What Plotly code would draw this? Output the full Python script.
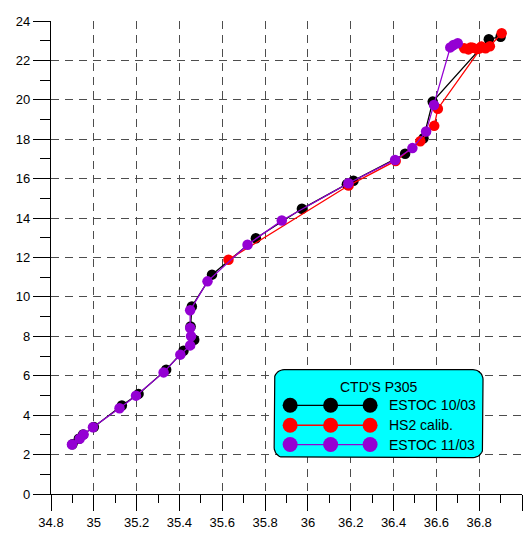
import math
import plotly.graph_objects as go

# ---- data (salinity S, temperature T) ----
black_S = [36.900, 36.845, 36.583, 36.540, 36.454, 36.213, 36.182, 35.972, 35.757, 35.552,
           35.458, 35.452, 35.469, 35.419, 35.338, 35.209, 35.131, 35.000, 34.950, 34.930, 34.900]
black_T = [23.20, 23.08, 19.91, 18.05, 17.26, 15.89, 15.72, 14.47, 12.98, 11.13,
           9.52, 8.50, 7.83, 7.27, 6.31, 5.08, 4.49, 3.40, 3.02, 2.80, 2.52]

red_S = [36.905, 36.850, 36.830, 36.810, 36.790, 36.770, 36.750, 36.730, 36.760, 36.800,
         36.812, 36.607, 36.590, 36.525, 36.410, 36.190, 35.629]
red_T = [23.38, 22.72, 22.62, 22.70, 22.58, 22.64, 22.56, 22.62, 22.66, 22.60,
         22.68, 19.55, 18.68, 17.90, 16.90, 15.65, 11.89]

purple_S = [36.700, 36.680, 36.665, 36.589, 36.552, 36.488, 36.407, 36.189, 35.878, 35.718,
            35.531, 35.450, 35.450, 35.454, 35.450, 35.404, 35.326, 35.197, 35.120, 34.996,
            34.952, 34.934, 34.898]
purple_T = [22.87, 22.78, 22.66, 19.74, 18.39, 17.55, 16.95, 15.77, 13.88, 12.65,
            10.79, 9.32, 8.42, 8.00, 7.54, 7.07, 6.17, 4.99, 4.35, 3.39,
            3.02, 2.80, 2.51]

series_names = ["ESTOC 10/03", "HS2 calib.", "ESTOC 11/03"]
series_colors = ["#000000", "#ff0000", "#9400d3"]
legend_title = "CTD'S P305"

x_tickvals = [34.8, 35.0, 35.2, 35.4, 35.6, 35.8, 36.0, 36.2, 36.4, 36.6, 36.8, 37.0]
x_ticktext = ["34.8", "35", "35.2", "35.4", "35.6", "35.8", "36", "36.2", "36.4", "36.6", "36.8", "37"]
y_tickvals = [0, 2, 4, 6, 8, 10, 12, 14, 16, 18, 20, 22, 24]
y_ticktext = [str(v) for v in y_tickvals]

FONT = "Liberation Sans, Arial, sans-serif"

fig = go.Figure()
for S, T, name, col in [(black_S, black_T, series_names[0], series_colors[0]),
                        (red_S, red_T, series_names[1], series_colors[1]),
                        (purple_S, purple_T, series_names[2], series_colors[2])]:
    fig.add_trace(go.Scatter(x=S, y=T, mode="lines+markers", name=name,
                             line=dict(color=col, width=1.3),
                             marker=dict(color=col, size=10.5, line=dict(width=0)),
                             showlegend=False))

# ---- custom legend in an overlay pixel-like coordinate system ----
L, R, TOP, BOT = 50.7, 522.0, 21.0, 494.5
bx0, bx1, by0, by1, rad = 274, 483, 370, 458, 10
corners = [(bx1 - rad, by0 + rad, -90), (bx1 - rad, by1 - rad, 0),
           (bx0 + rad, by1 - rad, 90), (bx0 + rad, by0 + rad, 180)]
box_x, box_y = [], []
for cx, cy, a0 in corners:
    for k in range(0, 10):
        a = math.radians(a0 + 90 * k / 9)
        box_x.append(cx + rad * math.cos(a))
        box_y.append(cy + rad * math.sin(a))
box_x.append(box_x[0]); box_y.append(box_y[0])
fig.add_trace(go.Scatter(x=box_x, y=box_y, xaxis="x2", yaxis="y2", mode="lines",
                         fill="toself", fillcolor="#00ffff",
                         line=dict(color="black", width=1.2), showlegend=False,
                         hoverinfo="skip"))
row_y = [405.7, 425.7, 445.0]
sample_x = [290, 330.5, 370]
for ry, name, col in zip(row_y, series_names, series_colors):
    fig.add_trace(go.Scatter(x=sample_x, y=[ry] * 3, xaxis="x2", yaxis="y2",
                             mode="lines+markers", line=dict(color=col, width=1.3),
                             marker=dict(color=col, size=15), showlegend=False,
                             hoverinfo="skip"))
    fig.add_annotation(x=387, y=ry, xref="x2", yref="y2", text=name, showarrow=False,
                       xanchor="left", yanchor="middle",
                       font=dict(family=FONT, size=14, color="black"))
fig.add_annotation(x=(bx0 + bx1) / 2, y=387, xref="x2", yref="y2", text=legend_title,
                   showarrow=False, xanchor="center", yanchor="middle",
                   font=dict(family=FONT, size=14, color="black"))

grid = dict(showgrid=True, gridcolor="#4d4d4d", gridwidth=1.3, griddash="8px,6px")

fig.update_layout(
    width=529, height=536,
    margin=dict(l=L, r=529 - R, t=TOP, b=536 - BOT),
    paper_bgcolor="white", plot_bgcolor="white",
    showlegend=False,
    font=dict(family=FONT, size=13, color="black"),
    xaxis=dict(range=[34.8, 37.0], tickvals=x_tickvals, ticktext=x_ticktext,
               ticks="outside", ticklen=16, tickwidth=1.3, tickcolor="black",
               showline=True, linecolor="black", linewidth=1.3, zeroline=False,
               minor=dict(dtick=0.1, tick0=34.8, ticks="outside", ticklen=8,
                          tickwidth=1.3, tickcolor="black", showgrid=False),
               tickfont=dict(family=FONT, size=13), **grid),
    yaxis=dict(range=[0, 24], tickvals=y_tickvals, ticktext=y_ticktext,
               ticks="outside", ticklen=17, tickwidth=1.3, tickcolor="black",
               showline=True, linecolor="black", linewidth=1.3, zeroline=False,
               minor=dict(dtick=1, tick0=0, ticks="outside", ticklen=10,
                          tickwidth=1.3, tickcolor="black", showgrid=False),
               tickfont=dict(family=FONT, size=13), **grid),
    xaxis2=dict(overlaying="x", range=[L, R], visible=False, anchor="y2"),
    yaxis2=dict(overlaying="y", range=[BOT, TOP], visible=False, anchor="x2"),
)

fig.write_html("out.html")
